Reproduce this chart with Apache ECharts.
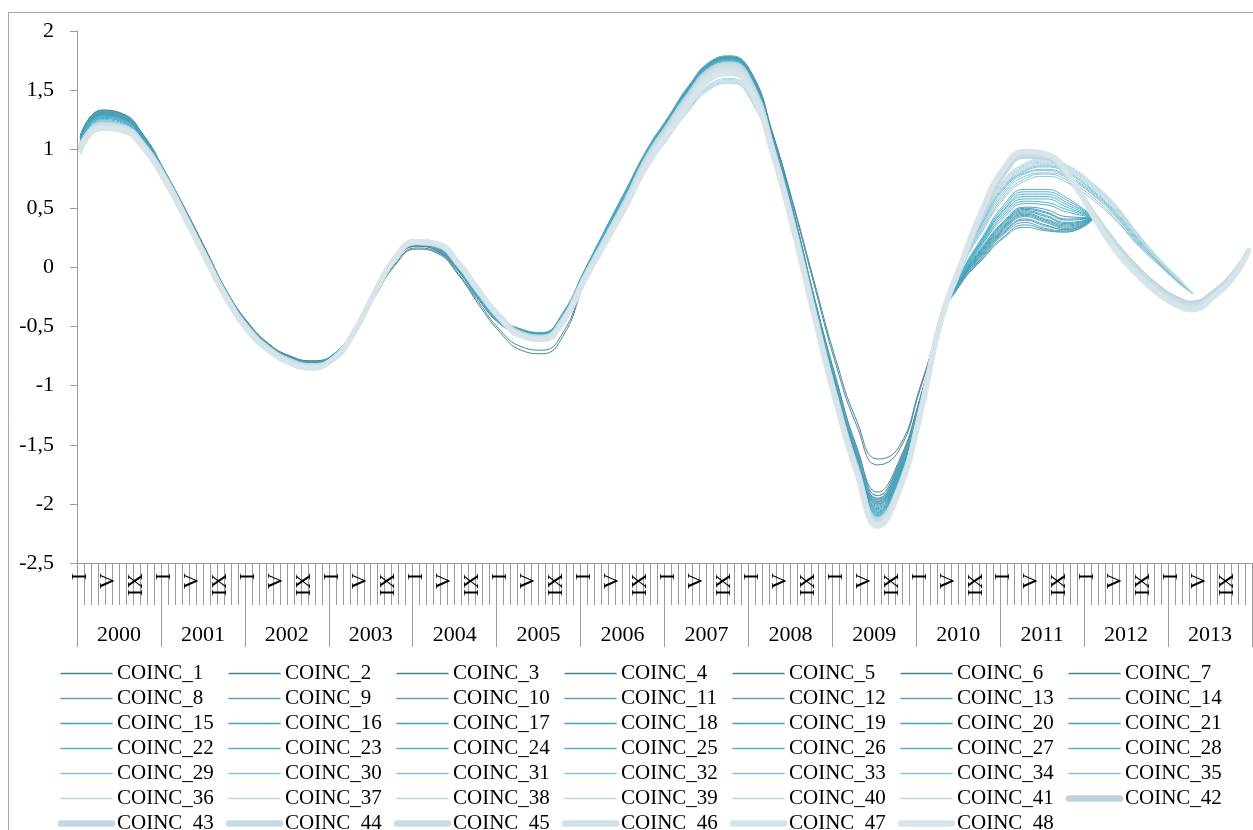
<!DOCTYPE html>
<html>
<head>
<meta charset="utf-8">
<script src="https://cdn.jsdelivr.net/npm/echarts@6/dist/echarts.min.js"></script>
<style>
html,body{margin:0;padding:0;background:#fff;}
#chart{width:1253px;height:830px;}
</style>
</head>
<body>
<div id="chart"></div>
<script>
// ---- categories ----
const years = ['2000','2001','2002','2003','2004','2005','2006','2007','2008','2009','2010','2011','2012','2013'];
const monthNames = ['I','II','III','IV','V','VI','VII','VIII','IX','X','XI','XII'];
const yTicks = [-2.5,-2,-1.5,-1,-0.5,0,0.5,1,1.5,2];

// month index (0 = I 2000) of each value in the series arrays below
const sampleMonths = [0,3,6,9,12,15,18,21,24,27,30,33,36,39,42,45,48,51,54,57,60,63,66,69,72,75,78,81,84,87,90,93,96,99,102,105,108,111,114,117,120,123,126,129,132,135,138,141,145,148,151,154,157,159,162,165,167];

// ---- series values ----
const COINC_1 = [1.12,1.33,1.30,1.12,0.82,0.49,0.14,-0.21,-0.47,-0.65,-0.75,-0.79,-0.75,-0.56,-0.26,0.02,0.155,0.12,-0.06,-0.32,-0.55,-0.70,-0.73,-0.58,-0.14,0.26,0.57,0.93,1.22,1.51,1.72,1.78,1.64,1.13,0.52,-0.14,-0.78,-1.30,-1.62,-1.52,-1.02,-0.45];
const COINC_2 = [1.12,1.33,1.30,1.12,0.82,0.49,0.14,-0.21,-0.47,-0.65,-0.75,-0.79,-0.75,-0.55,-0.25,0.03,0.165,0.13,-0.05,-0.30,-0.53,-0.67,-0.70,-0.55,-0.12,0.27,0.58,0.94,1.22,1.51,1.71,1.77,1.63,1.12,0.50,-0.17,-0.82,-1.34,-1.67,-1.55,-1.04,-0.45];
const COINC_3 = [1.11,1.32,1.29,1.11,0.81,0.48,0.13,-0.22,-0.48,-0.66,-0.76,-0.80,-0.75,-0.55,-0.24,0.05,0.18,0.14,-0.03,-0.28,-0.48,-0.57,-0.60,-0.43,-0.07,0.29,0.63,0.97,1.25,1.52,1.73,1.78,1.61,1.10,0.46,-0.27,-0.93,-1.52,-1.90,-1.64,-1.11,-0.45];
const COINC_4 = [1.11,1.32,1.29,1.11,0.81,0.48,0.13,-0.22,-0.48,-0.66,-0.76,-0.80,-0.75,-0.55,-0.24,0.05,0.18,0.14,-0.03,-0.27,-0.47,-0.55,-0.58,-0.42,-0.06,0.29,0.63,0.97,1.25,1.52,1.72,1.77,1.61,1.10,0.45,-0.28,-0.95,-1.54,-1.93,-1.66,-1.12,-0.45];
const COINC_5 = [1.10,1.31,1.28,1.10,0.80,0.47,0.12,-0.22,-0.48,-0.66,-0.77,-0.81,-0.75,-0.54,-0.23,0.06,0.19,0.15,-0.02,-0.26,-0.46,-0.54,-0.57,-0.41,-0.05,0.30,0.64,0.98,1.25,1.52,1.71,1.76,1.60,1.09,0.44,-0.29,-0.97,-1.56,-1.96,-1.68,-1.13,-0.45];
const COINC_6 = [1.10,1.31,1.28,1.10,0.80,0.47,0.12,-0.22,-0.48,-0.66,-0.76,-0.80,-0.75,-0.54,-0.23,0.06,0.19,0.15,-0.02,-0.26,-0.45,-0.54,-0.57,-0.40,-0.05,0.30,0.64,0.98,1.25,1.52,1.72,1.77,1.60,1.08,0.44,-0.30,-0.98,-1.57,-1.98,-1.70,-1.14,-0.45];
const COINC_7 = [1.10,1.30,1.27,1.09,0.79,0.47,0.12,-0.22,-0.48,-0.66,-0.77,-0.81,-0.75,-0.54,-0.23,0.06,0.20,0.16,-0.02,-0.25,-0.45,-0.53,-0.56,-0.40,-0.05,0.30,0.64,0.98,1.25,1.52,1.71,1.76,1.59,1.07,0.43,-0.31,-0.99,-1.58,-2.00,-1.72,-1.15,-0.45];
const COINC_8 = [1.11,1.32,1.29,1.11,0.81,0.48,0.12,-0.22,-0.48,-0.66,-0.76,-0.80,-0.75,-0.54,-0.23,0.06,0.19,0.15,-0.02,-0.26,-0.46,-0.55,-0.58,-0.41,-0.05,0.30,0.64,0.98,1.26,1.53,1.73,1.78,1.61,1.09,0.45,-0.28,-0.95,-1.54,-1.93,-1.67,-1.13,-0.45,-0.13,0.07,0.25,0.34,0.31,0.30,0.42];
const COINC_9 = [1.11,1.32,1.29,1.11,0.81,0.48,0.12,-0.22,-0.48,-0.66,-0.76,-0.80,-0.75,-0.54,-0.23,0.06,0.19,0.15,-0.02,-0.26,-0.45,-0.54,-0.57,-0.40,-0.05,0.30,0.64,0.98,1.25,1.52,1.72,1.77,1.60,1.08,0.44,-0.29,-0.96,-1.56,-1.95,-1.69,-1.14,-0.45,-0.12,0.08,0.26,0.36,0.32,0.30,0.42];
const COINC_10 = [1.10,1.31,1.28,1.10,0.80,0.47,0.12,-0.22,-0.48,-0.66,-0.77,-0.81,-0.75,-0.54,-0.23,0.06,0.20,0.16,-0.02,-0.26,-0.45,-0.54,-0.57,-0.40,-0.05,0.30,0.64,0.98,1.26,1.53,1.73,1.78,1.61,1.09,0.44,-0.30,-0.97,-1.57,-1.96,-1.70,-1.15,-0.45,-0.12,0.09,0.28,0.38,0.33,0.31,0.42];
const COINC_11 = [1.10,1.31,1.28,1.10,0.80,0.47,0.12,-0.22,-0.48,-0.66,-0.76,-0.80,-0.75,-0.54,-0.23,0.06,0.20,0.16,-0.01,-0.25,-0.44,-0.53,-0.56,-0.39,-0.04,0.31,0.64,0.98,1.24,1.51,1.71,1.76,1.59,1.07,0.43,-0.31,-0.98,-1.58,-1.97,-1.70,-1.15,-0.45,-0.11,0.10,0.29,0.40,0.35,0.32,0.42];
const COINC_12 = [1.10,1.31,1.28,1.10,0.80,0.47,0.12,-0.22,-0.48,-0.66,-0.77,-0.81,-0.75,-0.54,-0.23,0.06,0.20,0.16,-0.02,-0.26,-0.45,-0.54,-0.57,-0.40,-0.05,0.30,0.64,0.98,1.25,1.52,1.72,1.77,1.60,1.08,0.44,-0.30,-0.99,-1.58,-1.98,-1.71,-1.16,-0.45,-0.11,0.11,0.30,0.41,0.36,0.32,0.42];
const COINC_13 = [1.09,1.30,1.27,1.09,0.79,0.46,0.11,-0.23,-0.49,-0.67,-0.77,-0.81,-0.75,-0.54,-0.23,0.06,0.19,0.15,-0.01,-0.25,-0.44,-0.53,-0.56,-0.39,-0.04,0.31,0.64,0.98,1.24,1.51,1.71,1.76,1.59,1.07,0.43,-0.31,-0.99,-1.59,-1.99,-1.72,-1.16,-0.45,-0.10,0.12,0.31,0.43,0.38,0.33,0.42];
const COINC_14 = [1.09,1.30,1.27,1.09,0.79,0.46,0.11,-0.23,-0.49,-0.67,-0.77,-0.81,-0.75,-0.54,-0.23,0.06,0.20,0.16,-0.01,-0.25,-0.44,-0.53,-0.56,-0.39,-0.04,0.31,0.64,0.98,1.25,1.52,1.72,1.77,1.60,1.08,0.43,-0.31,-1.00,-1.60,-2.00,-1.73,-1.17,-0.45,-0.10,0.12,0.32,0.44,0.39,0.34,0.42];
const COINC_15 = [1.10,1.31,1.28,1.10,0.80,0.47,0.12,-0.22,-0.48,-0.66,-0.76,-0.80,-0.74,-0.53,-0.22,0.07,0.21,0.17,0.00,-0.24,-0.43,-0.52,-0.55,-0.38,-0.03,0.32,0.66,1.00,1.27,1.54,1.74,1.79,1.62,1.09,0.44,-0.31,-1.00,-1.61,-2.01,-1.74,-1.18,-0.45,-0.10,0.13,0.33,0.45,0.40,0.35,0.42];
const COINC_16 = [1.09,1.30,1.27,1.09,0.79,0.46,0.11,-0.23,-0.49,-0.67,-0.77,-0.81,-0.75,-0.54,-0.23,0.06,0.20,0.16,-0.01,-0.25,-0.44,-0.53,-0.56,-0.39,-0.04,0.31,0.65,0.99,1.26,1.53,1.73,1.78,1.61,1.08,0.43,-0.32,-1.01,-1.62,-2.02,-1.75,-1.18,-0.45,-0.09,0.14,0.34,0.46,0.41,0.36,0.42];
const COINC_17 = [1.09,1.30,1.27,1.09,0.79,0.46,0.11,-0.23,-0.49,-0.67,-0.77,-0.81,-0.75,-0.54,-0.23,0.06,0.20,0.16,-0.01,-0.25,-0.44,-0.53,-0.56,-0.39,-0.04,0.31,0.64,0.98,1.25,1.52,1.72,1.77,1.60,1.07,0.43,-0.32,-1.01,-1.62,-2.03,-1.76,-1.19,-0.45,-0.09,0.15,0.35,0.47,0.43,0.37,0.42];
const COINC_18 = [1.08,1.29,1.26,1.08,0.78,0.46,0.11,-0.23,-0.49,-0.67,-0.78,-0.82,-0.76,-0.54,-0.23,0.07,0.21,0.17,-0.01,-0.26,-0.45,-0.54,-0.57,-0.40,-0.05,0.30,0.63,0.97,1.24,1.51,1.71,1.76,1.59,1.06,0.42,-0.33,-1.02,-1.63,-2.04,-1.76,-1.19,-0.45,-0.09,0.15,0.36,0.48,0.44,0.38,0.42];
const COINC_19 = [1.08,1.29,1.26,1.08,0.78,0.46,0.11,-0.23,-0.49,-0.67,-0.77,-0.81,-0.75,-0.54,-0.23,0.06,0.20,0.16,-0.01,-0.25,-0.44,-0.53,-0.56,-0.39,-0.04,0.31,0.64,0.98,1.25,1.52,1.72,1.77,1.60,1.07,0.42,-0.33,-1.02,-1.64,-2.05,-1.77,-1.20,-0.45,-0.08,0.16,0.37,0.49,0.46,0.40,0.42];
const COINC_20 = [1.08,1.29,1.26,1.08,0.78,0.46,0.11,-0.23,-0.49,-0.67,-0.78,-0.82,-0.76,-0.54,-0.23,0.07,0.21,0.17,-0.01,-0.26,-0.45,-0.54,-0.57,-0.40,-0.05,0.30,0.63,0.97,1.24,1.51,1.71,1.76,1.59,1.06,0.42,-0.34,-1.03,-1.65,-2.06,-1.78,-1.20,-0.45,-0.08,0.17,0.38,0.50,0.47,0.41,0.42];
const COINC_21 = [1.07,1.28,1.25,1.07,0.78,0.45,0.11,-0.23,-0.49,-0.67,-0.78,-0.82,-0.76,-0.54,-0.23,0.07,0.21,0.17,0.00,-0.25,-0.44,-0.53,-0.56,-0.39,-0.04,0.30,0.63,0.97,1.24,1.51,1.71,1.76,1.59,1.06,0.41,-0.34,-1.03,-1.66,-2.07,-1.79,-1.21,-0.45,-0.07,0.18,0.39,0.51,0.49,0.43,0.42];
const COINC_22 = [1.07,1.28,1.25,1.07,0.78,0.45,0.11,-0.23,-0.49,-0.67,-0.78,-0.82,-0.76,-0.54,-0.23,0.07,0.21,0.17,-0.01,-0.26,-0.45,-0.54,-0.57,-0.40,-0.05,0.30,0.63,0.97,1.23,1.50,1.70,1.75,1.58,1.06,0.41,-0.34,-1.03,-1.66,-2.07,-1.79,-1.21,-0.45,-0.07,0.20,0.42,0.54,0.53,0.47,0.42];
const COINC_23 = [1.07,1.28,1.25,1.07,0.78,0.45,0.11,-0.23,-0.49,-0.67,-0.78,-0.82,-0.76,-0.54,-0.23,0.07,0.21,0.17,-0.01,-0.26,-0.45,-0.54,-0.57,-0.40,-0.05,0.30,0.63,0.97,1.24,1.51,1.71,1.76,1.59,1.06,0.41,-0.35,-1.04,-1.66,-2.08,-1.80,-1.22,-0.45,-0.06,0.21,0.44,0.56,0.55,0.49,0.42];
const COINC_24 = [1.06,1.27,1.24,1.06,0.77,0.45,0.10,-0.23,-0.49,-0.67,-0.78,-0.82,-0.76,-0.54,-0.23,0.07,0.22,0.18,0.00,-0.26,-0.46,-0.55,-0.58,-0.41,-0.06,0.29,0.62,0.96,1.23,1.50,1.70,1.75,1.58,1.05,0.40,-0.35,-1.04,-1.66,-2.08,-1.80,-1.22,-0.45,-0.06,0.22,0.46,0.58,0.58,0.51,0.42];
const COINC_25 = [1.06,1.27,1.24,1.06,0.77,0.45,0.10,-0.23,-0.49,-0.67,-0.78,-0.82,-0.76,-0.54,-0.23,0.07,0.22,0.18,0.00,-0.26,-0.46,-0.55,-0.58,-0.41,-0.06,0.29,0.62,0.96,1.22,1.49,1.69,1.74,1.57,1.05,0.40,-0.35,-1.05,-1.67,-2.09,-1.81,-1.22,-0.45,-0.05,0.23,0.48,0.60,0.60,0.53,0.42];
const COINC_26 = [1.05,1.26,1.23,1.05,0.76,0.44,0.10,-0.24,-0.50,-0.68,-0.79,-0.83,-0.76,-0.54,-0.23,0.07,0.22,0.18,0.00,-0.26,-0.46,-0.55,-0.58,-0.41,-0.06,0.29,0.62,0.96,1.22,1.49,1.69,1.74,1.57,1.05,0.39,-0.36,-1.05,-1.68,-2.10,-1.82,-1.23,-0.45,-0.05,0.24,0.49,0.62,0.62,0.55,0.42];
const COINC_27 = [1.05,1.26,1.23,1.05,0.76,0.44,0.10,-0.24,-0.50,-0.68,-0.79,-0.83,-0.76,-0.54,-0.23,0.07,0.22,0.18,0.00,-0.26,-0.47,-0.56,-0.59,-0.42,-0.07,0.28,0.61,0.95,1.21,1.48,1.68,1.73,1.56,1.04,0.39,-0.36,-1.05,-1.68,-2.10,-1.82,-1.23,-0.45,-0.04,0.25,0.51,0.64,0.64,0.57,0.42];
const COINC_28 = [1.04,1.25,1.22,1.04,0.75,0.44,0.10,-0.24,-0.50,-0.68,-0.79,-0.83,-0.76,-0.54,-0.23,0.07,0.22,0.18,0.00,-0.26,-0.47,-0.56,-0.59,-0.42,-0.07,0.28,0.61,0.95,1.20,1.47,1.67,1.72,1.55,1.04,0.38,-0.37,-1.06,-1.69,-2.11,-1.83,-1.24,-0.45,-0.04,0.26,0.53,0.66,0.66,0.59,0.42];
const COINC_29 = [1.03,1.24,1.21,1.05,0.77,0.44,0.09,-0.25,-0.52,-0.69,-0.79,-0.83,-0.77,-0.55,-0.22,0.08,0.21,0.18,0.02,-0.23,-0.44,-0.56,-0.59,-0.44,-0.09,0.25,0.58,0.93,1.20,1.46,1.66,1.71,1.53,1.01,0.35,-0.39,-1.08,-1.69,-2.12,-1.85,-1.24,-0.45,0.00,0.31,0.58,0.73,0.77,0.72,0.56,0.40,0.20,0.03,-0.13,-0.22];
const COINC_30 = [1.03,1.24,1.21,1.05,0.77,0.44,0.09,-0.25,-0.52,-0.69,-0.79,-0.83,-0.77,-0.55,-0.22,0.08,0.21,0.18,0.02,-0.23,-0.44,-0.56,-0.59,-0.44,-0.09,0.24,0.57,0.92,1.19,1.45,1.65,1.70,1.52,1.00,0.34,-0.40,-1.09,-1.69,-2.12,-1.85,-1.24,-0.45,0.01,0.33,0.60,0.75,0.79,0.74,0.58,0.41,0.21,0.04,-0.13,-0.22];
const COINC_31 = [1.02,1.23,1.20,1.04,0.77,0.43,0.08,-0.26,-0.52,-0.69,-0.79,-0.83,-0.77,-0.55,-0.22,0.08,0.21,0.18,0.02,-0.22,-0.44,-0.57,-0.59,-0.44,-0.09,0.24,0.56,0.91,1.18,1.44,1.64,1.69,1.51,0.99,0.33,-0.41,-1.10,-1.70,-2.13,-1.86,-1.25,-0.45,0.01,0.35,0.62,0.77,0.80,0.76,0.60,0.43,0.22,0.04,-0.12,-0.22];
const COINC_32 = [1.02,1.23,1.20,1.04,0.77,0.43,0.08,-0.26,-0.52,-0.69,-0.79,-0.83,-0.77,-0.55,-0.22,0.08,0.21,0.18,0.02,-0.22,-0.44,-0.57,-0.59,-0.44,-0.09,0.23,0.56,0.91,1.18,1.44,1.64,1.69,1.51,0.99,0.33,-0.41,-1.11,-1.71,-2.14,-1.86,-1.25,-0.45,0.02,0.37,0.64,0.79,0.82,0.77,0.61,0.44,0.23,0.05,-0.12,-0.22];
const COINC_33 = [1.01,1.22,1.19,1.04,0.76,0.43,0.08,-0.26,-0.53,-0.70,-0.80,-0.84,-0.78,-0.56,-0.22,0.08,0.21,0.19,0.03,-0.21,-0.43,-0.57,-0.60,-0.45,-0.10,0.23,0.55,0.90,1.17,1.43,1.63,1.68,1.50,0.98,0.32,-0.42,-1.11,-1.71,-2.14,-1.87,-1.25,-0.45,0.02,0.38,0.66,0.80,0.83,0.78,0.62,0.45,0.24,0.05,-0.12,-0.22];
const COINC_34 = [1.01,1.22,1.19,1.04,0.76,0.43,0.08,-0.26,-0.53,-0.70,-0.80,-0.84,-0.78,-0.56,-0.22,0.08,0.21,0.19,0.03,-0.21,-0.43,-0.57,-0.60,-0.45,-0.10,0.22,0.54,0.89,1.16,1.42,1.62,1.67,1.49,0.97,0.31,-0.42,-1.12,-1.72,-2.15,-1.87,-1.26,-0.45,0.03,0.39,0.67,0.81,0.85,0.80,0.63,0.46,0.25,0.06,-0.11,-0.22];
const COINC_35 = [1.00,1.21,1.18,1.03,0.75,0.42,0.07,-0.27,-0.53,-0.70,-0.80,-0.84,-0.78,-0.56,-0.22,0.08,0.21,0.19,0.03,-0.21,-0.43,-0.57,-0.60,-0.45,-0.10,0.22,0.54,0.89,1.15,1.41,1.61,1.66,1.48,0.97,0.31,-0.43,-1.12,-1.72,-2.15,-1.88,-1.26,-0.45,0.03,0.40,0.68,0.82,0.86,0.81,0.64,0.47,0.26,0.06,-0.11,-0.22];
const COINC_36 = [0.98,1.18,1.16,1.01,0.75,0.41,0.06,-0.28,-0.53,-0.70,-0.79,-0.83,-0.77,-0.55,-0.21,0.08,0.20,0.18,0.02,-0.22,-0.43,-0.56,-0.59,-0.45,-0.12,0.20,0.51,0.86,1.12,1.37,1.55,1.60,1.44,0.96,0.34,-0.39,-1.09,-1.69,-2.12,-1.86,-1.23,-0.45,0.04,0.41,0.69,0.83,0.87,0.82,0.65,0.48,0.27,0.07,-0.11,-0.22];
const COINC_37 = [0.98,1.18,1.16,1.01,0.75,0.41,0.06,-0.28,-0.53,-0.70,-0.79,-0.83,-0.77,-0.55,-0.21,0.08,0.20,0.18,0.02,-0.22,-0.43,-0.56,-0.59,-0.45,-0.12,0.20,0.51,0.86,1.12,1.36,1.54,1.59,1.43,0.96,0.34,-0.39,-1.09,-1.70,-2.13,-1.86,-1.23,-0.45,0.04,0.42,0.70,0.84,0.88,0.83,0.66,0.49,0.27,0.07,-0.10,-0.22];
const COINC_38 = [0.97,1.17,1.15,1.00,0.74,0.41,0.06,-0.28,-0.53,-0.70,-0.79,-0.83,-0.77,-0.55,-0.21,0.08,0.20,0.18,0.02,-0.22,-0.43,-0.56,-0.59,-0.45,-0.12,0.19,0.50,0.85,1.11,1.35,1.53,1.58,1.42,0.95,0.33,-0.40,-1.10,-1.71,-2.14,-1.87,-1.24,-0.45,0.05,0.43,0.71,0.85,0.89,0.84,0.67,0.50,0.28,0.08,-0.10,-0.22];
const COINC_39 = [0.97,1.17,1.15,1.00,0.74,0.41,0.06,-0.28,-0.53,-0.70,-0.79,-0.83,-0.77,-0.55,-0.21,0.08,0.20,0.18,0.02,-0.22,-0.43,-0.56,-0.59,-0.45,-0.12,0.19,0.50,0.84,1.10,1.34,1.52,1.57,1.41,0.95,0.33,-0.40,-1.10,-1.71,-2.15,-1.87,-1.24,-0.45,0.05,0.44,0.72,0.86,0.90,0.85,0.68,0.51,0.29,0.08,-0.10,-0.22];
const COINC_40 = [0.97,1.17,1.15,1.00,0.74,0.41,0.06,-0.28,-0.53,-0.70,-0.79,-0.83,-0.77,-0.55,-0.21,0.08,0.20,0.18,0.02,-0.22,-0.43,-0.56,-0.59,-0.45,-0.12,0.19,0.49,0.84,1.10,1.33,1.51,1.56,1.40,0.94,0.32,-0.41,-1.11,-1.72,-2.16,-1.88,-1.24,-0.45,0.06,0.45,0.73,0.87,0.91,0.86,0.69,0.52,0.30,0.09,-0.09,-0.22];
const COINC_41 = [0.96,1.16,1.14,0.99,0.73,0.40,0.05,-0.28,-0.53,-0.70,-0.79,-0.83,-0.77,-0.55,-0.21,0.08,0.20,0.18,0.02,-0.22,-0.43,-0.56,-0.59,-0.45,-0.13,0.18,0.49,0.83,1.09,1.33,1.51,1.56,1.40,0.94,0.32,-0.41,-1.11,-1.73,-2.17,-1.88,-1.25,-0.45,0.06,0.46,0.74,0.88,0.92,0.87,0.70,0.53,0.30,0.09,-0.09,-0.22];
const COINC_42 = [1.02,1.21,1.19,1.04,0.77,0.43,0.08,-0.26,-0.52,-0.69,-0.79,-0.83,-0.78,-0.56,-0.22,0.08,0.21,0.19,0.03,-0.21,-0.42,-0.56,-0.59,-0.44,-0.09,0.24,0.57,0.93,1.20,1.46,1.67,1.72,1.54,1.00,0.34,-0.40,-1.10,-1.70,-2.13,-1.87,-1.24,-0.45,0.02,0.46,0.79,0.94,0.93,0.78,0.44,0.20,0.00,-0.16,-0.27,-0.30,-0.21,-0.04,0.14];
const COINC_43 = [1.02,1.21,1.19,1.04,0.77,0.43,0.08,-0.26,-0.52,-0.69,-0.79,-0.83,-0.78,-0.56,-0.22,0.08,0.21,0.19,0.03,-0.21,-0.42,-0.56,-0.59,-0.44,-0.09,0.23,0.56,0.92,1.19,1.45,1.66,1.71,1.53,0.99,0.33,-0.41,-1.11,-1.71,-2.14,-1.87,-1.24,-0.45,0.03,0.47,0.80,0.95,0.94,0.79,0.44,0.19,-0.01,-0.17,-0.28,-0.31,-0.22,-0.05,0.14];
const COINC_44 = [1.01,1.20,1.18,1.03,0.76,0.42,0.07,-0.27,-0.53,-0.70,-0.80,-0.84,-0.78,-0.56,-0.22,0.08,0.22,0.20,0.03,-0.21,-0.43,-0.57,-0.60,-0.45,-0.10,0.23,0.55,0.91,1.18,1.44,1.65,1.70,1.52,0.98,0.32,-0.42,-1.12,-1.72,-2.15,-1.88,-1.25,-0.45,0.03,0.48,0.81,0.96,0.94,0.79,0.43,0.18,-0.02,-0.18,-0.29,-0.32,-0.23,-0.05,0.14];
const COINC_45 = [1.01,1.20,1.18,1.03,0.76,0.42,0.07,-0.27,-0.53,-0.70,-0.80,-0.84,-0.78,-0.56,-0.22,0.08,0.22,0.20,0.03,-0.21,-0.43,-0.57,-0.60,-0.45,-0.10,0.22,0.54,0.90,1.17,1.43,1.64,1.69,1.51,0.98,0.32,-0.42,-1.12,-1.72,-2.16,-1.88,-1.25,-0.45,0.04,0.48,0.82,0.96,0.95,0.80,0.43,0.17,-0.03,-0.19,-0.30,-0.33,-0.23,-0.06,0.14];
const COINC_46 = [1.00,1.19,1.17,1.02,0.75,0.42,0.07,-0.27,-0.53,-0.70,-0.80,-0.84,-0.78,-0.56,-0.22,0.08,0.22,0.20,0.04,-0.20,-0.43,-0.57,-0.60,-0.45,-0.11,0.22,0.54,0.89,1.16,1.42,1.63,1.68,1.50,0.97,0.31,-0.43,-1.13,-1.73,-2.17,-1.89,-1.26,-0.45,0.04,0.49,0.83,0.97,0.95,0.80,0.42,0.16,-0.04,-0.20,-0.31,-0.34,-0.24,-0.06,0.14];
const COINC_47 = [1.00,1.19,1.17,1.02,0.75,0.42,0.07,-0.27,-0.53,-0.70,-0.81,-0.85,-0.78,-0.56,-0.22,0.08,0.22,0.20,0.04,-0.20,-0.43,-0.58,-0.61,-0.46,-0.11,0.21,0.53,0.88,1.14,1.40,1.61,1.66,1.48,0.96,0.31,-0.43,-1.13,-1.74,-2.18,-1.89,-1.26,-0.45,0.05,0.50,0.84,0.98,0.96,0.81,0.42,0.15,-0.05,-0.21,-0.32,-0.35,-0.25,-0.07,0.14];
const COINC_48 = [0.99,1.18,1.16,1.01,0.74,0.41,0.06,-0.28,-0.54,-0.71,-0.81,-0.85,-0.78,-0.56,-0.22,0.08,0.22,0.20,0.04,-0.20,-0.43,-0.58,-0.61,-0.46,-0.12,0.20,0.52,0.87,1.13,1.38,1.59,1.64,1.46,0.95,0.30,-0.44,-1.14,-1.74,-2.19,-1.90,-1.27,-0.45,0.05,0.50,0.84,0.98,0.96,0.81,0.41,0.14,-0.06,-0.22,-0.33,-0.36,-0.25,-0.07,0.14];

const seriesValues = [COINC_1,COINC_2,COINC_3,COINC_4,COINC_5,COINC_6,COINC_7,COINC_8,COINC_9,COINC_10,
  COINC_11,COINC_12,COINC_13,COINC_14,COINC_15,COINC_16,COINC_17,COINC_18,COINC_19,COINC_20,
  COINC_21,COINC_22,COINC_23,COINC_24,COINC_25,COINC_26,COINC_27,COINC_28,COINC_29,COINC_30,
  COINC_31,COINC_32,COINC_33,COINC_34,COINC_35,COINC_36,COINC_37,COINC_38,COINC_39,COINC_40,
  COINC_41,COINC_42,COINC_43,COINC_44,COINC_45,COINC_46,COINC_47,COINC_48];

// ---- styling ----
const FONT = "'Liberation Serif','Times New Roman',serif";
const AXIS_COLOR = '#9c9c9c';
const thickColors = ['#bcd4dd','#c2d8e0','#c6dae2','#cadde4','#cfe0e6','#d3e3e8','#d7e5ea'];
function styleFor(i) {
  const n = i + 1;
  if (n <= 7) return {color: '#4a8696', width: 1};
  if (n <= 14) return {color: '#56a3b8', width: 1};
  if (n <= 21) return {color: '#45a0ba', width: 1};
  if (n <= 28) return {color: '#4fb0c9', width: 1};
  if (n <= 35) return {color: '#8cc3d3', width: 1};
  if (n <= 41) return {color: '#b7d8e3', width: 1};
  return {color: thickColors[n - 42], width: 5};
}

const monthCats = [];
years.forEach(y => monthNames.forEach(m => monthCats.push(y + '-' + m)));

const names = seriesValues.map((_, i) => 'COINC_' + (i + 1));

const series = seriesValues.map((vals, i) => {
  const st = styleFor(i);
  return {
    name: names[i],
    type: 'line',
    xAxisIndex: 0,
    yAxisIndex: 0,
    smooth: 0.5,
    symbol: 'none',
    silent: true,
    animation: false,
    color: st.color,
    lineStyle: {color: st.color, width: st.width, cap: 'round', join: 'round'},
    emphasis: {disabled: true},
    data: vals.map((v, j) => [sampleMonths[j], v])
  };
});

const legends = [];
for (let c = 0; c < 7; c++) {
  legends.push({
    orient: 'vertical',
    left: 57.75 + c * 168,
    top: 663,
    height: 220,
    itemWidth: 51,
    itemHeight: 14,
    itemGap: 4,
    padding: 0,
    selectedMode: false,
    itemStyle: {opacity: 0},
    lineStyle: {width: 1.5},
    data: names.map((n, i) => ({
      name: n,
      lineStyle: styleFor(i).width > 1 ? {width: 6.5, cap: 'round'} : {width: 1.5}
    })).filter((_, i) => i % 7 === c),
    textStyle: {fontFamily: FONT, fontSize: 21, color: '#000', lineHeight: 21}
  });
}

const chart = echarts.init(document.getElementById('chart'), null, {renderer: 'canvas'});
chart.setOption({
  animation: false,
  backgroundColor: '#ffffff',
  graphic: [{
    type: 'rect',
    silent: true,
    shape: {x: 8.5, y: 12.5, width: 1270, height: 840},
    style: {fill: 'none', stroke: '#a6a6a6', lineWidth: 1}
  }],
  grid: {left: 77, right: 1, top: 31, bottom: 267, containLabel: false, outerBoundsMode: 'none'},
  legend: legends,
  xAxis: [{
    type: 'category',
    position: 'bottom',
    data: monthCats,
    boundaryGap: true,
    axisLine: {show: true, onZero: false, lineStyle: {color: AXIS_COLOR, width: 1}},
    axisTick: {show: true, interval: 0, length: 42, lineStyle: {color: AXIS_COLOR, width: 1}},
    axisLabel: {
      show: true, interval: 3, rotate: 90, margin: 10,
      fontFamily: FONT, fontSize: 22, color: '#000',
      formatter: v => v.split('-')[1]
    },
    splitLine: {show: false}
  }, {
    type: 'category',
    position: 'bottom',
    offset: 0,
    data: years,
    boundaryGap: true,
    axisLine: {show: false, onZero: false},
    axisTick: {show: true, interval: 0, length: 84, lineStyle: {color: AXIS_COLOR, width: 1}},
    axisLabel: {show: true, interval: 0, margin: 61, fontFamily: FONT, fontSize: 22, color: '#000'},
    splitLine: {show: false}
  }],
  yAxis: {
    type: 'value',
    min: yTicks[0],
    max: yTicks[yTicks.length - 1],
    interval: 0.5,
    axisLine: {show: true, onZero: false, lineStyle: {color: AXIS_COLOR, width: 1}},
    axisTick: {show: true, length: 7, lineStyle: {color: AXIS_COLOR, width: 1}},
    axisLabel: {
      margin: 23, fontFamily: FONT, fontSize: 22, color: '#000',
      formatter: v => String(v).replace('.', ',')
    },
    splitLine: {show: false}
  },
  series: series
});
</script>
</body>
</html>
